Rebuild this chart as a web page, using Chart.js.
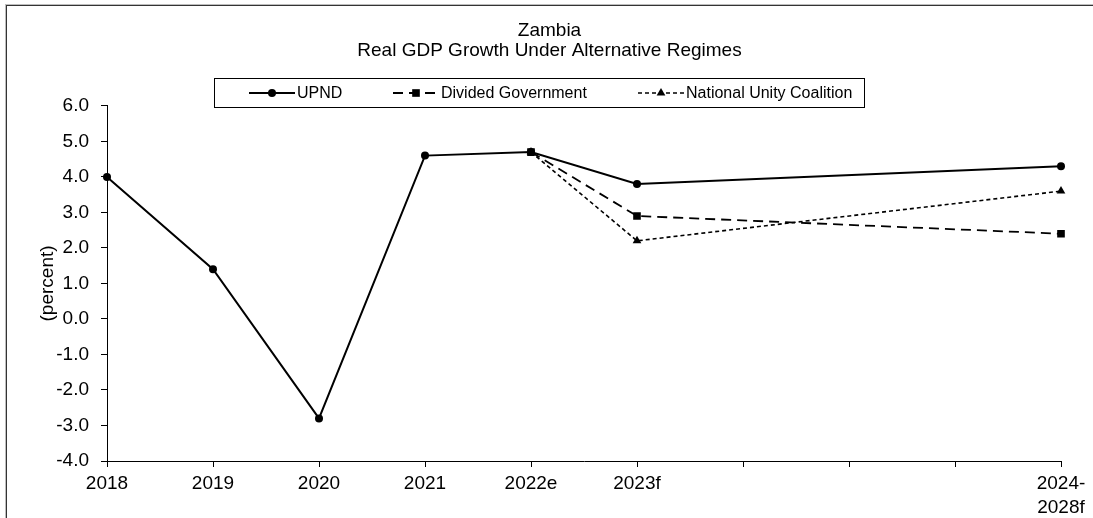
<!DOCTYPE html>
<html>
<head>
<meta charset="utf-8">
<title>Zambia - Real GDP Growth Under Alternative Regimes</title>
<script src="https://cdn.jsdelivr.net/npm/chart.js@4"></script>
<style>
  html, body { margin: 0; padding: 0; background: #fff; overflow: hidden; }
  #wrap { position: relative; width: 1093px; height: 518px; }
</style>
</head>
<body>
<div id="wrap"><canvas id="gdp-chart"></canvas></div>
<script>
// years on the x axis (three blank slots before the 2024-2028 average)
const years = ['2018', '2019', '2020', '2021', '2022e', '2023f', '', '', '', ['2024-', '2028f']];

// real GDP growth, percent
const upnd = [4.0, 1.4, -2.8, 4.6, 4.7, 3.8, null, null, null, 4.3];
const dividedGov = [null, null, null, null, 4.7, 2.9, null, null, null, 2.4];
const unityCoalition = [null, null, null, null, 4.7, 2.2, null, null, null, 3.6];

const seriesNames = ['UPND', 'Divided Government', 'National Unity Coalition'];
const titleLines = ['Zambia', 'Real GDP Growth Under Alternative Regimes'];

const FONT = '"Liberation Sans", Arial, sans-serif';
Chart.defaults.font.family = FONT;
Chart.defaults.color = '#000';

// little marker shapes for the boxed legend
function marker(ctx, style, x, y, r) {
    ctx.beginPath();
    if (style === 'circle') {
        ctx.arc(x, y, r, 0, Math.PI * 2);
    } else if (style === 'rect') {
        const s = r * Math.SQRT1_2;
        ctx.rect(x - s, y - s, s * 2, s * 2);
    } else if (style === 'triangle') {
        ctx.moveTo(x, y - r);
        ctx.lineTo(x + r * 0.87, y + r * 0.5);
        ctx.lineTo(x - r * 0.87, y + r * 0.5);
        ctx.closePath();
    }
    ctx.fill();
}

const boxLegend = {
    id: 'boxLegend',
    beforeDraw(chart) {
        const ctx = chart.ctx;
        // outer frame of the figure
        ctx.save();
        ctx.fillStyle = '#bdbdbd';
        ctx.fillRect(5, 4, chart.width, 1);
        ctx.fillRect(5, 4, 1, chart.height);
        ctx.fillStyle = '#333';
        ctx.fillRect(6, 5, chart.width, 1);
        ctx.fillRect(6, 5, 1, chart.height);
        ctx.restore();
    },
    afterDraw(chart) {
        const ctx = chart.ctx;
        const box = { x: 214.5, y: 78.5, w: 650, h: 29 };
        const starts = [249, 393, 638];
        const cy = box.y + box.h / 2;
        ctx.save();
        ctx.fillStyle = '#fff';
        ctx.fillRect(box.x, box.y, box.w, box.h);
        ctx.strokeStyle = '#000';
        ctx.lineWidth = 1;
        ctx.strokeRect(box.x, box.y, box.w, box.h);

        ctx.font = '16px ' + FONT;
        ctx.textBaseline = 'middle';
        chart.data.datasets.forEach((ds, i) => {
            const x0 = starts[i];
            ctx.strokeStyle = ds.borderColor;
            ctx.fillStyle = ds.pointBackgroundColor;
            ctx.lineWidth = ds.borderWidth;
            ctx.setLineDash(ds.borderDash || []);
            ctx.beginPath();
            ctx.moveTo(x0, cy);
            ctx.lineTo(x0 + 46, cy);
            ctx.stroke();
            ctx.setLineDash([]);
            marker(ctx, ds.pointStyle, x0 + 23, cy, ds.pointRadius);
            ctx.fillStyle = '#000';
            ctx.fillText(ds.label, x0 + 48, cy + 1);
        });
        ctx.restore();
    }
};

const ctx = document.getElementById('gdp-chart');

new Chart(ctx, {
    type: 'line',
    data: {
        labels: years,
        datasets: [{
            label: seriesNames[0],
            data: upnd,
            borderColor: '#000',
            borderWidth: 2,
            pointStyle: 'circle',
            pointRadius: 4,
            pointBackgroundColor: '#000',
            pointBorderWidth: 0,
            order: 2
        }, {
            label: seriesNames[1],
            data: dividedGov,
            borderColor: '#000',
            borderWidth: 1.8,
            borderDash: [10, 6],
            pointStyle: 'rect',
            pointRadius: 5.4,
            pointBackgroundColor: '#000',
            pointBorderWidth: 0,
            order: 0
        }, {
            label: seriesNames[2],
            data: unityCoalition,
            borderColor: '#000',
            borderWidth: 1.6,
            borderDash: [4, 3],
            pointStyle: 'triangle',
            pointRadius: 5,
            pointBackgroundColor: '#000',
            pointBorderWidth: 0,
            order: 1
        }]
    },
    options: {
        responsive: true,
        maintainAspectRatio: false,
        animation: false,
        spanGaps: true,
        layout: {
            padding: { left: 38, right: 32, top: 0, bottom: 0 }
        },
        plugins: {
            legend: { display: false },
            tooltip: { enabled: false },
            title: {
                display: true,
                text: titleLines,
                color: '#000',
                font: { size: 19, weight: 'normal', lineHeight: 1.05 },
                padding: { top: 21, bottom: 45 }
            }
        },
        scales: {
            x: {
                offset: false,
                afterFit(scale) { scale.height = 57; },
                grid: {
                    display: true,
                    drawOnChartArea: false,
                    drawTicks: true,
                    tickLength: 6,
                    color: '#000'
                },
                border: { display: true, color: '#000', width: 1 },
                ticks: {
                    autoSkip: false,
                    maxRotation: 0,
                    minRotation: 0,
                    padding: 4,
                    color: '#000',
                    font: { size: 19, lineHeight: 1.3 }
                }
            },
            y: {
                min: -4,
                max: 6,
                afterFit(scale) { scale.width = 69; },
                grid: {
                    display: true,
                    drawOnChartArea: false,
                    drawTicks: true,
                    tickLength: 6,
                    color: '#000'
                },
                border: { display: true, color: '#000', width: 1 },
                ticks: {
                    stepSize: 1,
                    padding: 12,
                    color: '#000',
                    font: { size: 19 },
                    callback: (v) => Number(v).toFixed(1)
                },
                title: {
                    display: true,
                    text: '(percent)',
                    color: '#000',
                    font: { size: 19, lineHeight: 1 },
                    padding: { top: 0, bottom: 0 }
                }
            }
        }
    },
    plugins: [boxLegend]
});
</script>
</body>
</html>
